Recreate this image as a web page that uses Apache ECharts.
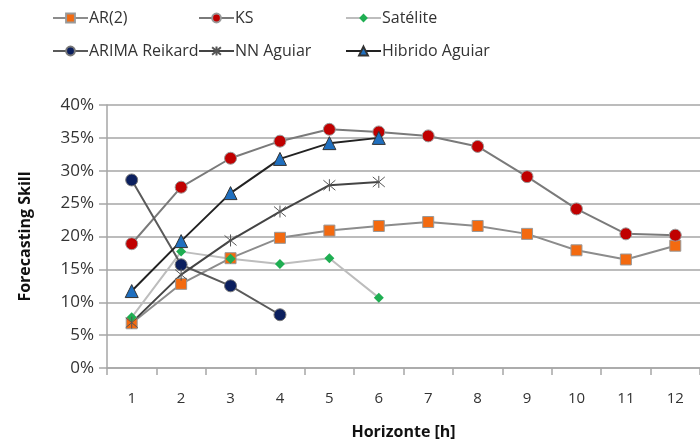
<!DOCTYPE html>
<html><head><meta charset="utf-8">
<script src="https://cdn.jsdelivr.net/npm/echarts@6/dist/echarts.min.js"></script>
<style>html,body{margin:0;padding:0;background:#fff}#c{width:700px;height:445px}</style>
</head><body><div id="c"></div>
<script>
const categories = ['1','2','3','4','5','6','7','8','9','10','11','12'];
const ar2 = [6.8, 12.8, 16.7, 19.8, 20.9, 21.6, 22.2, 21.6, 20.4, 17.9, 16.5, 18.6];
const ks = [18.9, 27.5, 31.9, 34.5, 36.3, 35.9, 35.3, 33.7, 29.1, 24.2, 20.4, 20.2];
const satelite = [7.7, 17.7, 16.6, 15.8, 16.7, 10.7];
const arimaReikard = [28.6, 15.7, 12.5, 8.1];
const nnAguiar = [6.9, 14.2, 19.4, 23.8, 27.8, 28.3];
const hibridoAguiar = [11.7, 19.3, 26.6, 31.8, 34.2, 35.0];
const yTicks = [0, 5, 10, 15, 20, 25, 30, 35, 40];

const FONT = '"Open Sans", "Noto Sans", sans-serif';
const asterisk = 'path://M0,0 L10,10 M10,0 L0,10 M5,-1 L5,11';

const chart = echarts.init(document.getElementById('c'), null, {renderer: 'canvas'});

const seriesDefs = [
  {name: 'AR(2)', data: ar2, line: '#8c8c8c', symbol: 'rect', size: 11, fill: '#f36a10', border: '#999', bw: 1},
  {name: 'KS', data: ks, line: '#7a7a7a', symbol: 'circle', size: 12, fill: '#c00000', border: '#999', bw: 1},
  {name: 'Satélite', data: satelite, line: '#bdbdbd', symbol: 'diamond', size: 10, fill: '#1fae52', border: '#1fae52', bw: 0},
  {name: 'ARIMA Reikard', data: arimaReikard, line: '#5a5a5a', symbol: 'circle', size: 12, fill: '#0b1f5e', border: '#777', bw: 1},
  {name: 'NN Aguiar', data: nnAguiar, line: '#444', symbol: asterisk, size: 12, fill: 'none', border: '#555', bw: 1},
  {name: 'Hibrido Aguiar', data: hibridoAguiar, line: '#222', symbol: 'triangle', size: 13, fill: '#1f6fbf', border: '#333', bw: 1}
];

const legendPos = [
  {left: 52, top: 10}, {left: 198, top: 10}, {left: 345, top: 10},
  {left: 52, top: 43}, {left: 198, top: 43}, {left: 345, top: 43}
];

const legends = seriesDefs.map((s, i) => ({
  data: [s.name],
  left: legendPos[i].left, top: legendPos[i].top,
  padding: 0,
  itemWidth: 35, itemHeight: 11, itemGap: 2,
  selectedMode: false,
  textStyle: {fontFamily: FONT, fontSize: 16, color: '#333', padding: [0, 0, 0, -4]}
}));

const series = seriesDefs.map(s => ({
  name: s.name, type: 'line', data: s.data.map(v => v / 100),
  symbol: s.symbol, symbolSize: s.size, showAllSymbol: true,
  lineStyle: {color: s.line, width: 2},
  itemStyle: {color: s.fill, borderColor: s.border, borderWidth: s.bw},
  emphasis: {disabled: true},
  animation: false
}));

chart.setOption({
  animation: false,
  legend: legends,
  grid: {left: 107, right: -11, top: 105, bottom: 76},
  xAxis: {
    type: 'category', data: categories, boundaryGap: true,
    name: 'Horizonte [h]', nameLocation: 'middle', nameGap: 56,
    nameTextStyle: {fontFamily: FONT, fontSize: 16, fontWeight: 'bold', color: '#111'},
    axisLine: {lineStyle: {color: '#a6a6a6', width: 1.5}},
    axisTick: {show: true, length: 7, interval: 0, lineStyle: {color: '#a6a6a6', width: 1.5}},
    axisLabel: {fontFamily: FONT, fontSize: 15, color: '#333', margin: 23, interval: 0}
  },
  yAxis: {
    type: 'value', min: 0, max: 0.4, interval: 0.05,
    name: 'Forecasting Skill', nameLocation: 'middle', nameGap: 74, nameRotate: 90,
    nameTextStyle: {fontFamily: FONT, fontSize: 16, fontWeight: 'bold', color: '#111'},
    axisLine: {show: true, lineStyle: {color: '#a6a6a6', width: 1.5}},
    axisTick: {show: true, length: 8, lineStyle: {color: '#a6a6a6', width: 1.5}},
    axisLabel: {fontFamily: FONT, fontSize: 17, color: '#333', margin: 13,
      formatter: v => Math.round(v * 100) + '%'},
    splitLine: {show: true, lineStyle: {color: '#a6a6a6', width: 1.5}}
  },
  series: series
});
</script></body></html>
